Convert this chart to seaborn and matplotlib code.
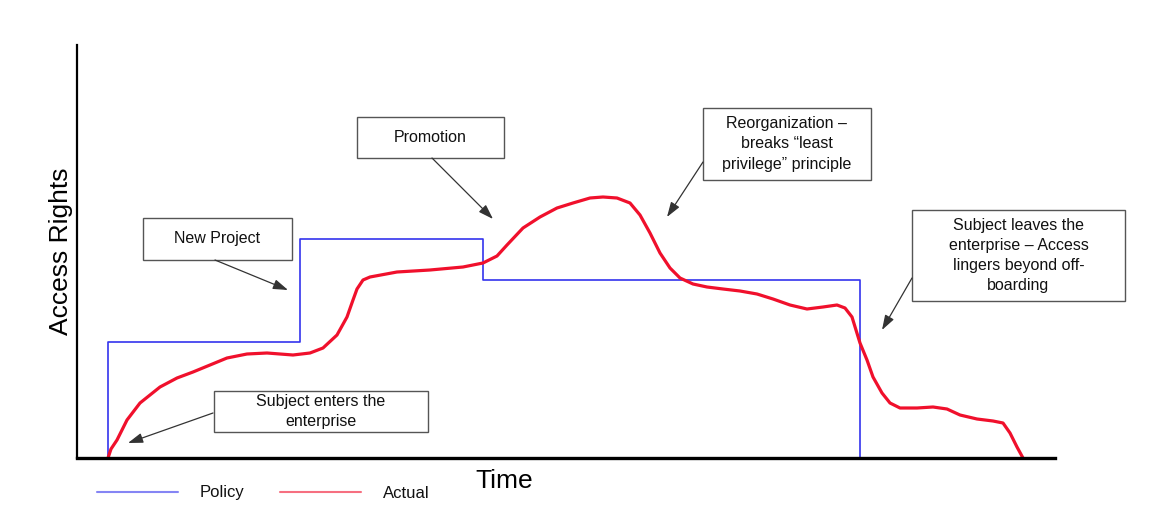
import pandas as pd
import matplotlib.pyplot as plt
import seaborn as sns

# values (time, access level in arbitrary units)
policy_time = [31, 31, 223, 223, 406, 406, 783, 783]
policy_access = [0, 116, 116, 219, 219, 178, 178, 0]

actual_time = [31, 34, 40, 45, 50, 63, 83, 100, 116, 133, 150, 170,
               190, 216, 233, 246, 260, 270, 276, 280, 286, 293,
               320, 353, 386, 406, 420, 430, 446, 463, 480, 496,
               513, 526, 540, 553, 563, 573, 583, 593, 603, 616,
               630, 646, 663, 680, 696, 713, 730, 746, 760, 768,
               775, 783, 790, 796, 805, 813, 823, 840, 856, 870,
               883, 900, 916, 926, 933, 940, 946]
actual_access = [0, 9, 18, 28, 38, 55, 71, 80, 86, 93, 100, 104,
                 105, 103, 105, 110, 123, 141, 158, 169, 178, 181,
                 186, 188, 191, 195, 202, 213, 230, 241, 250, 255,
                 260, 261, 260, 255, 243, 225, 205, 190, 180, 174,
                 171, 169, 167, 164, 159, 153, 149, 151, 153, 150,
                 141, 115, 98, 81, 65, 55, 50, 50, 51, 49,
                 43, 39, 37, 35, 25, 11, 0]

notes = ["New Project", "Promotion",
         "Reorganization \u2013\nbreaks \u201cleast\nprivilege\u201d principle",
         "Subject leaves the\nenterprise \u2013 Access\nlingers beyond off-\nboarding",
         "Subject enters the\nenterprise"]

sns.set_style('white')
plt.rcParams['font.family'] = ['Liberation Sans', 'DejaVu Sans']
plt.rcParams['text.color'] = 'black'
plt.rcParams['axes.labelcolor'] = 'black'

policy = pd.DataFrame({'time': policy_time, 'access': policy_access})
actual = pd.DataFrame({'time': actual_time, 'access': actual_access})

fig = plt.figure(figsize=(11.76, 5.31), dpi=100)
ax = fig.add_axes([77 / 1176, 1 - 458 / 531, 978 / 1176, 413 / 531])

sns.lineplot(policy, x='time', y='access', sort=False, estimator=None,
             color='#3434ee', linewidth=1.2, label='Policy', ax=ax)
sns.lineplot(actual, x='time', y='access', sort=False, estimator=None,
             color='#f0102c', linewidth=2.3, label='Actual', ax=ax,
             solid_joinstyle='round')

ax.set_xlim(0, 978)
ax.set_ylim(0, 413)
ax.set_xticks([])
ax.set_yticks([])
for s in ['top', 'right']:
    ax.spines[s].set_visible(False)
ax.spines['left'].set_color('black')
ax.spines['left'].set_linewidth(1.6)
ax.spines['bottom'].set_color('black')
ax.spines['bottom'].set_linewidth(2.4)

ax.set_ylabel('Access Rights', fontsize=19, labelpad=3)
ax.set_xlabel('Time', fontsize=19)
ax.xaxis.set_label_coords(0.4366, -0.027)

# annotation boxes (x0, x1, y0, y1 in axis units) and arrows (tail -> head)
boxes = [(66, 215, 198, 240), (280, 427, 300, 341), (626, 794, 278, 350),
         (835, 1048, 157, 248), (137, 351, 26, 67)]
arrows = [((138, 198), (211, 168)), ((355, 300), (416, 239)),
          ((626, 296), (590, 241)), ((835, 180), (805, 128)),
          ((136, 45), (51, 15))]

for note, (x0, x1, y0, y1), (tail, head) in zip(notes, boxes, arrows):
    ax.add_patch(plt.Rectangle((x0, y0), x1 - x0, y1 - y0, facecolor='white',
                               edgecolor='#555555', linewidth=1.0,
                               clip_on=False, zorder=3))
    ax.text((x0 + x1) / 2, (y0 + y1) / 2, note, ha='center', va='center',
            fontsize=11.5, linespacing=1.42, color='#111111', zorder=4)
    ax.annotate('', xy=head, xytext=tail, annotation_clip=False,
                arrowprops=dict(arrowstyle='-|>,head_length=0.9,head_width=0.3',
                                color='#333333', lw=0.9, shrinkA=0, shrinkB=0))

leg = ax.legend(loc='center left', bbox_to_anchor=(97 / 1176, 1 - 493 / 531),
                bbox_transform=fig.transFigure, ncol=2, frameon=False,
                fontsize=12, handlelength=4.86, handletextpad=1.3,
                columnspacing=2.15, borderpad=0, borderaxespad=0)
for t in leg.get_texts():
    t.set_color('#111111')
for h in leg.get_lines():
    h.set_linewidth(1.5)
    h.set_alpha(0.6)

fig.savefig('out.png', dpi=100)
